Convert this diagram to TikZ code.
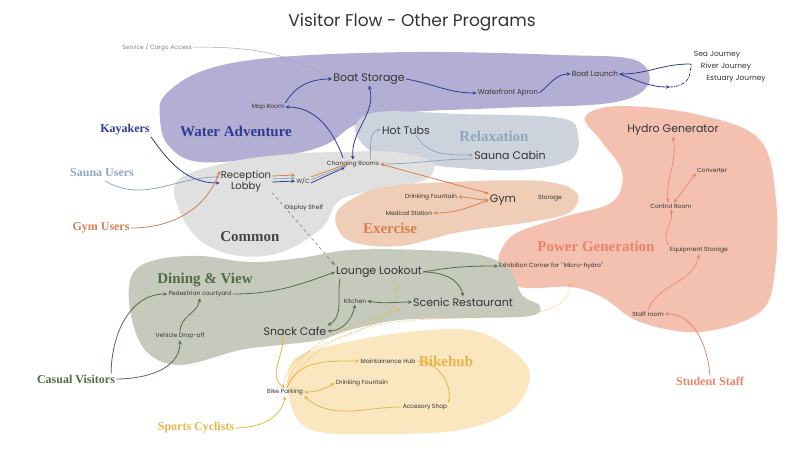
\documentclass[tikz,border=0pt]{standalone}
\usepackage{fontspec}
\setmainfont{Liberation Serif}
\newfontfamily\pop{Poppins}
\usetikzlibrary{arrows.meta}
\definecolor{cpur}{HTML}{B3AED3}\definecolor{cblue}{HTML}{2E3C8F}
\definecolor{crel}{HTML}{CDD3DD}\definecolor{crelt}{HTML}{8FA7BD}
\definecolor{cex}{HTML}{F0CDB6}\definecolor{cext}{HTML}{D4804F}
\definecolor{ccom}{HTML}{E0E0E0}\definecolor{ccomt}{HTML}{444444}
\definecolor{cpow}{HTML}{F4C1B0}\definecolor{cpowt}{HTML}{E8836A}
\definecolor{cdin}{HTML}{C6CABD}\definecolor{cdint}{HTML}{4F6B45}
\definecolor{cbik}{HTML}{FAE7C0}\definecolor{cbikt}{HTML}{E8B44A}
\definecolor{ctxt}{HTML}{333333}
\tikzset{
 big/.style={font=\pop\fontsize{11}{12}\selectfont,text=ctxt,inner sep=1pt},
 sm/.style={font=\pop\fontsize{6}{7}\selectfont,text=ctxt,inner sep=1pt},
 cat/.style={font=\bfseries\fontsize{15}{16}\selectfont,inner sep=1pt},
 who/.style={font=\bfseries\fontsize{12}{13}\selectfont,inner sep=1pt},
 ar/.style={-{Stealth[length=4pt,width=3.5pt]},line width=0.8pt},
 dar/.style={{Stealth[length=4pt,width=3.5pt]}-{Stealth[length=4pt,width=3.5pt]},line width=0.8pt},
 dot/.style={cbikt,densely dotted,line width=0.6pt,-{Stealth[length=3pt,width=3pt]}},
}
\begin{document}
\begin{tikzpicture}[x=1pt,y=-1pt]
\useasboundingbox (0,0) rectangle (804,452);
% blobs
\fill[cpur] plot[smooth cycle,tension=0.6] coordinates{(165,95)(205,70)(280,57)(420,52)(560,55)(635,60)(648,85)(610,103)(500,108)(400,113)(355,125)(325,145)(280,156)(200,162)(168,145)(160,118)};
\fill[crel] plot[smooth cycle,tension=0.6] coordinates{(355,128)(378,112)(460,114)(560,118)(578,135)(570,160)(520,170)(460,168)(410,162)(372,152)};
\fill[ccom] plot[smooth cycle,tension=0.6] coordinates{(178,180)(230,162)(290,154)(340,152)(395,152)(432,162)(425,180)(380,190)(340,200)(322,228)(282,252)(240,256)(202,242)(180,212)};
\fill[cex] plot[smooth cycle,tension=0.6] coordinates{(342,206)(380,188)(450,182)(540,181)(576,192)(570,212)(530,222)(460,232)(400,246)(352,242)(336,224)};
\fill[cpow] plot[smooth cycle,tension=0.6] coordinates{(585,117)(620,106)(700,115)(760,140)(776,200)(775,270)(760,312)(700,332)(640,322)(602,297)(570,287)(520,287)(498,266)(512,236)(560,218)(612,202)(622,172)(602,142)};
\fill[cdin] plot[smooth cycle,tension=0.6] coordinates{(132,275)(155,260)(200,256)(250,262)(300,258)(350,250)(420,250)(480,255)(510,270)(522,295)(540,306)(530,316)(470,318)(400,320)(350,330)(320,340)(280,345)(240,350)(180,365)(145,350)(130,310)};
\fill[cbik] plot[smooth cycle,tension=0.6] coordinates{(292,362)(330,346)(400,333)(470,330)(512,350)(530,376)(512,410)(460,430)(380,434)(312,430)(290,402)};
% title
\node[font=\pop\fontsize{17}{18}\selectfont,text=ctxt] (title) at (412,22) {Visitor Flow - Other Programs};
% nodes
\node[sm,text=gray] (svc) at (157,47) {Service / Cargo Access};
\node[big] (bs) at (369,79) {Boat Storage};
\node[sm] (map) at (268,107) {Map Room};
\node[sm,font=\pop\fontsize{7}{8}\selectfont] (wfa) at (508,93) {Waterfront Apron};
\node[sm,font=\pop\fontsize{7.5}{8}\selectfont] (bl) at (595,74) {Boat Launch};
\node[sm,font=\pop\fontsize{7.5}{8}\selectfont] (sea) at (717,55) {Sea Journey};
\node[sm,font=\pop\fontsize{7.5}{8}\selectfont] (riv) at (726,67) {River Journey};
\node[sm,font=\pop\fontsize{7.5}{8}\selectfont] (est) at (736,79) {Estuary Journey};
\coordinate (loopA) at (690,64);\coordinate (loopB) at (670,87);
\node[cat,text=cblue] (wa) at (236,131) {Water Adventure};
\node[who,text=cblue] (kay) at (125,130) {Kayakers};
\node[big] (ht) at (406,130) {Hot Tubs};
\node[cat,text=crelt] (rel) at (494,136) {Relaxation};
\node[big] (sc) at (510,155) {Sauna Cabin};
\node[sm] (cr) at (353,164) {Changing Rooms};
\node[who,text=crelt] (su) at (102,173) {Sauna Users};
\node[big,align=center,font=\pop\fontsize{10}{11}\selectfont] (rl) at (246,181) {Reception\\Lobby};
\node[sm] (wc) at (303,181) {W/C};
\node[sm] (ds) at (304,208) {Display Shelf};
\node[sm] (df) at (431,197) {Drinking Fountain};
\node[big] (gym) at (503,200) {Gym};
\node[sm] (sto) at (550,198) {Storage};
\node[sm] (med) at (409,213) {Medical Station};
\node[cat,text=cext] (ex) at (390,228) {Exercise};
\node[who,text=cext] (gu) at (101,228) {Gym Users};
\node[cat,text=ccomt] (com) at (250,237) {Common};
\node[big] (hg) at (673,130) {Hydro Generator};
\node[sm] (conv) at (712,170) {Converter};
\node[sm] (ctrl) at (671,206) {Control Room};
\node[cat,text=cpowt] (pg) at (596,246) {Power Generation};
\node[sm] (eq) at (699,250) {Equipment Storage};
\node[sm] (exh) at (551,266) {Exhibition Corner for ``Micro-hydro''};
\node[sm] (staff) at (648,314) {Staff room};
\node[who,text=cpowt] (ss) at (710,381) {Student Staff};
\node[cat,text=cdint] (dv) at (205,280) {Dining \& View};
\node[sm] (ped) at (200,294) {Pedestrian courtyard};
\node[big] (ll) at (379,272) {Lounge Lookout};
\node[sm] (kit) at (355,301) {Kitchen};
\node[big] (sr) at (463,302) {Scenic Restaurant};
\node[big] (snk) at (295,331) {Snack Cafe};
\node[sm] (vd) at (180,336) {Vehicle Drop-off};
\node[cat,text=cbikt] (bh) at (446,361) {Bikehub};
\node[sm] (mh) at (388,361) {Maintainence Hub};
\node[sm] (df2) at (362,383) {Drinking Fountain};
\node[sm] (bp) at (285,392) {Bike Parking};
\node[sm] (acc) at (425,407) {Accesory Shop};
\node[who,text=cdint] (cv) at (76,379) {Casual Visitors};
\node[who,text=cbikt] (cyc) at (196,428) {Sports Cyclists};
\coordinate (dotA) at (397,286);
\coordinate (dotB) at (400,309);
\coordinate (dotC) at (570,283);
% water adventure
\draw[ar,gray!70,line width=0.5pt] (svc) to[out=0,in=150] (bs.west);
\draw[ar,cblue] (map.north east) to[out=60,in=180] (bs.west);
\draw[ar,cblue] (cr.north) ++(-10,-2) to[out=110,in=0] (map.east);
\draw[dar,cblue] (cr.north) to[out=95,in=-75] (bs.south);
\draw[ar,cblue] (bs.east) to[out=-10,in=180] (wfa.west);
\draw[ar,cblue] (wfa.east) to[out=40,in=180] (bl.west);
\draw[ar,cblue] (bl.east) to[out=-20,in=180] (loopB);
\draw[cblue,line width=0.8pt,densely dashdotted] (loopB) to[out=0,in=-90] (690,72) to[out=90,in=0] (loopA);
\draw[ar,cblue] (loopA) to[out=180,in=0] (bl.east);
\draw[ar,cblue] (kay.south east) to[out=-55,in=180] ([yshift=-2pt]rl.west);
% relaxation
\draw[ar,crelt] (su.east) ++(-30,8) to[out=-30,in=180] ([yshift=4pt]rl.west);
\draw[ar,crelt] (cr.north east) ++(-10,0) to[out=85,in=180] (ht.west);
\draw[ar,crelt] (ht.south) ++(10,0) to[out=-60,in=180] (sc.west);
\draw[ar,crelt] (sc.west) ++(0,4) to[out=180,in=0] (cr.east);
% common
\draw[ar,cblue] ([yshift=-1pt]rl.east) to (wc.west);
\draw[ar,crelt] ([yshift=2pt]rl.east) to ([yshift=3pt]wc.west);
\draw[ar,cext] ([yshift=5pt]rl.east) to ([yshift=6pt]wc.west);
\draw[ar,cblue] ([yshift=-2pt]wc.east) to ([xshift=-8pt,yshift=1pt]cr.south);
\draw[ar,crelt] ([yshift=1pt]wc.east) to ([xshift=-6pt,yshift=3pt]cr.south);
\draw[ar,cext] ([yshift=4pt]wc.east) to ([xshift=-4pt,yshift=5pt]cr.south);
\draw[ar,cext] (gu.east) to[out=0,in=-110] ([yshift=10pt]rl.west);
\draw[ar,gray,dashed,line width=0.6pt] (rl.south east) to (ll.north west);
% exercise
\draw[dar,cext] (cr.east) to (gym.north west);
\draw[dar,cext] (df.east) to[out=0,in=180] (gym.west);
\draw[dar,cext] (med.east) to[out=0,in=200] (gym.west);
% power
\draw[dar,cpowt,line width=0.6pt] (ctrl.north) ++(-3,0) to[out=95,in=-80] (hg.south);
\draw[dar,cpowt,line width=0.6pt] (ctrl.north) ++(3,0) to (conv.south west);
\draw[ar,cpowt,line width=0.6pt] (eq.north west) to[out=130,in=-80] (ctrl.south);
\draw[ar,cpowt,line width=0.6pt] (staff.north) to[out=70,in=-100] (eq.south);
\draw[ar,cpowt] (ss.north) to[out=95,in=0] (staff.east);
% dining
\draw[ar,cdint] (ll.east) to[out=10,in=180] (exh.west);
\draw[ar,cdint] (ped.east) to[out=0,in=200] (ll.west);
\draw[ar,cdint] (ll.east) to[out=0,in=100] (sr.north);
\draw[ar,cdint] (ll.south west) ++(5,0) to[out=-100,in=30] (snk.north east);
\draw[dar,cdint] (kit.east) to[out=-10,in=180] (sr.west);
\draw[dar,cdint] (snk.east) to[out=0,in=-100] (kit.south);
\draw[ar,cdint] (vd.north) to[out=90,in=-100] (ped.south);
\draw[ar,cdint] (cv.north east) ++(-5,0) to[out=90,in=180] (ped.west);
\draw[ar,cdint] (cv.east) to[out=0,in=-90] (vd.south);
% bikehub
\draw[dar,cbikt] (snk.south) ++(-12,0) to[out=-90,in=150] (bp.north);
\draw[ar,cbikt] (bp.north) ++(2,0) to[out=70,in=180] (mh.west);
\draw[ar,cbikt] (mh.east) to[out=0,in=80] (acc.north east);
\draw[ar,cbikt] (acc.west) to[out=180,in=-40] (bp.south east);
\draw[dar,cbikt] (bp.east) to[out=0,in=-150] (df2.west);
\draw[ar,cbikt] (cyc.east) to[out=0,in=-100] (bp.south);
\draw[dot] (bp.north) ++(-2,0) to[out=85,in=-90] (dotA);
\draw[dot] (bp.north) ++(0,0) to[out=70,in=200] (dotB);
\draw[dot] (bp.north) ++(2,0) to[out=60,in=185] (520,315) to[out=5,in=-90] (dotC);
\end{tikzpicture}
\end{document}
